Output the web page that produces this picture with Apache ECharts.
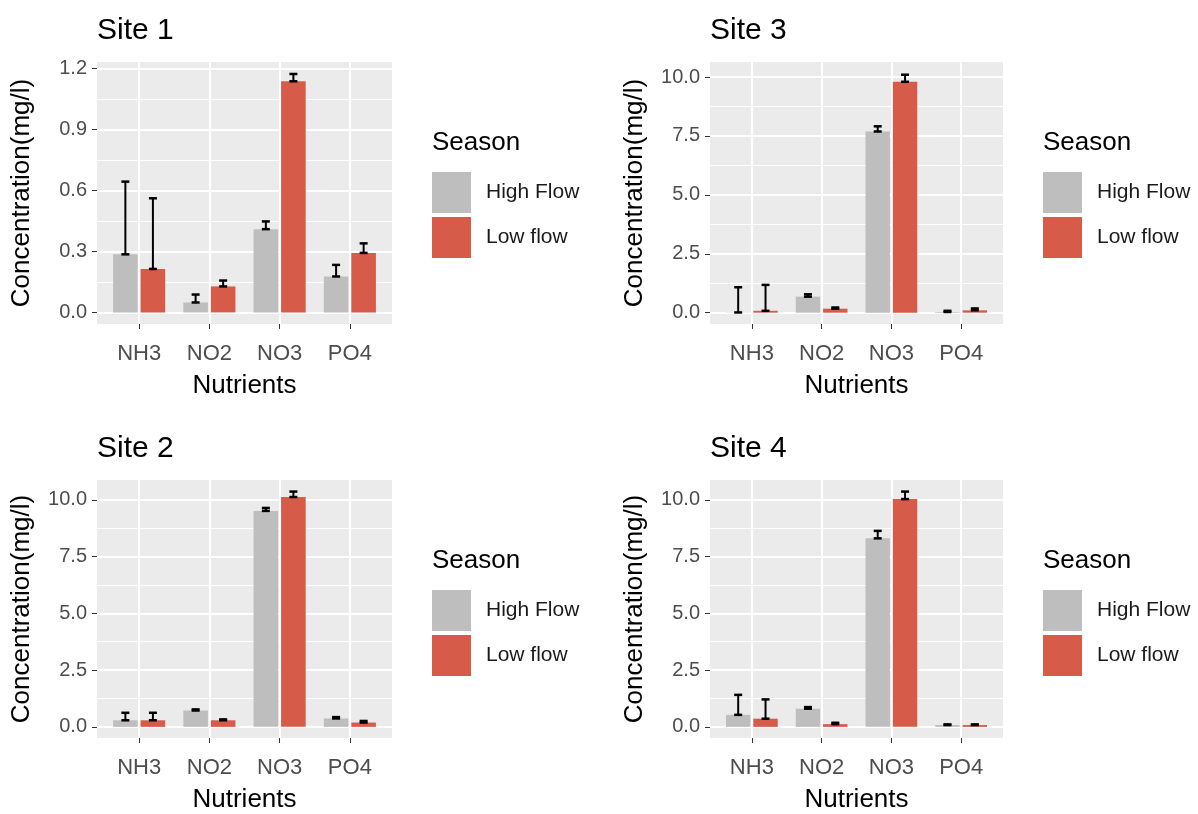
<!DOCTYPE html>
<html><head><meta charset="utf-8">
<script src="https://cdn.jsdelivr.net/npm/echarts@6/dist/echarts.min.js"></script>
<style>html,body{margin:0;padding:0;background:#fff}#c{width:1198px;height:814px}</style>
</head><body><div id="c"></div>
<script>
// ---- data ----
const categories = ['NH3', 'NO2', 'NO3', 'PO4'];
const seasons = ['High Flow', 'Low flow'];
const siteNames = ['Site 1', 'Site 2', 'Site 3', 'Site 4'];

const site1High = [0.286, 0.049, 0.410, 0.177];
const site1HighErr = [0.358, 0.039, 0.038, 0.057];
const site1Low = [0.214, 0.128, 1.138, 0.293];
const site1LowErr = [0.348, 0.029, 0.036, 0.047];

const site2High = [0.29, 0.72, 9.51, 0.37];
const site2HighErr = [0.33, 0.05, 0.13, 0.06];
const site2Low = [0.29, 0.29, 10.12, 0.19];
const site2LowErr = [0.33, 0.04, 0.24, 0.07];

const site3High = [0.01, 0.68, 7.69, 0.03];
const site3HighErr = [1.07, 0.10, 0.22, 0.05];
const site3Low = [0.08, 0.17, 9.80, 0.10];
const site3LowErr = [1.10, 0.05, 0.30, 0.08];

const site4High = [0.53, 0.80, 8.30, 0.08];
const site4HighErr = [0.88, 0.07, 0.33, 0.03];
const site4Low = [0.36, 0.12, 10.03, 0.08];
const site4LowErr = [0.85, 0.06, 0.33, 0.03];

const site1Ticks = [0, 0.3, 0.6, 0.9, 1.2];
const site1Minor = [0.15, 0.45, 0.75, 1.05];
const otherTicks = [0, 2.5, 5, 7.5, 10];
const otherMinor = [1.25, 3.75, 6.25, 8.75];
const catPositions = [1, 2, 3, 4];

// ---- layout / style ----
const FONT = '"Liberation Sans", Arial, sans-serif';
const GREY = '#BEBEBE', RED = '#D65B49';
const panels = [
  {name: siteNames[0], high: site1High, highErr: site1HighErr, low: site1Low, lowErr: site1LowErr,
   ticks: site1Ticks, minor: site1Minor, min: -0.057, max: 1.233,
   left: 97, top: 62, width: 295, height: 262, tx: 97, ty: 16, lx: 432, ly: 130},
  {name: siteNames[1], high: site2High, highErr: site2HighErr, low: site2Low, lowErr: site2LowErr,
   ticks: otherTicks, minor: otherMinor, min: -0.49, max: 10.87,
   left: 97, top: 480, width: 295, height: 262, tx: 97, ty: 434, lx: 432, ly: 548},
  {name: siteNames[2], high: site3High, highErr: site3HighErr, low: site3Low, lowErr: site3LowErr,
   ticks: otherTicks, minor: otherMinor, min: -0.48, max: 10.64,
   left: 710, top: 62, width: 293, height: 262, tx: 710, ty: 16, lx: 1043, ly: 130},
  {name: siteNames[3], high: site4High, highErr: site4HighErr, low: site4Low, lowErr: site4LowErr,
   ticks: otherTicks, minor: otherMinor, min: -0.49, max: 10.87,
   left: 710, top: 480, width: 293, height: 262, tx: 710, ty: 434, lx: 1043, ly: 548}
];

const BAR_W = 0.35, BAR_GAP = 0.12;
const OFF = BAR_W / 2 + BAR_W * BAR_GAP / 2;

function makeErr(off) {
  return function (params, api) {
    const x = api.value(0) + off;
    const a = api.coord([x, api.value(1)]);
    const b = api.coord([x, api.value(2)]);
    const h = 4;
    const st = {stroke: '#000', lineWidth: 2};
    const cap = {stroke: '#000', lineWidth: 2.5};
    return {type: 'group', children: [
      {type: 'line', shape: {x1: a[0], y1: a[1], x2: b[0], y2: b[1]}, style: st},
      {type: 'line', shape: {x1: a[0] - h, y1: a[1], x2: a[0] + h, y2: a[1]}, style: cap},
      {type: 'line', shape: {x1: b[0] - h, y1: b[1], x2: b[0] + h, y2: b[1]}, style: cap}
    ]};
  };
}

const option = {
  animation: false, backgroundColor: '#fff',
  title: [], legend: [], grid: [], xAxis: [], yAxis: [], series: []
};

panels.forEach((p, i) => {
  option.title.push({text: p.name, left: p.tx, top: p.ty, padding: 0,
    textStyle: {fontSize: 30, fontWeight: 'normal', color: '#000', fontFamily: FONT, lineHeight: 30}});
  option.title.push({text: 'Season', left: p.lx, top: p.ly, padding: 0,
    textStyle: {fontSize: 26, fontWeight: 'normal', color: '#000', fontFamily: FONT, lineHeight: 26}});
  option.legend.push({left: p.lx, top: p.ly + 42, orient: 'vertical', padding: 0,
    itemWidth: 39, itemHeight: 41, itemGap: 4, icon: 'rect', selectedMode: false,
    data: seasons,
    textStyle: {fontSize: 21, color: '#1A1A1A', fontFamily: FONT, padding: [4, 0, 0, 10]}});
  option.grid.push({left: p.left, top: p.top, width: p.width, height: p.height,
    show: true, backgroundColor: '#EBEBEB', borderWidth: 0});
  option.xAxis.push({gridIndex: i, type: 'value', min: 0.4, max: 4.6,
    axisLine: {show: false, onZero: false},
    axisTick: {show: true, customValues: catPositions, length: 5, lineStyle: {color: '#333', width: 1}},
    axisLabel: {customValues: catPositions, formatter: v => categories[Math.round(v) - 1],
      fontSize: 22, color: '#4D4D4D', margin: 19, fontFamily: FONT},
    splitLine: {show: true, lineStyle: {color: '#fff', width: 2}},
    name: 'Nutrients', nameLocation: 'middle', nameGap: 49,
    nameTextStyle: {fontSize: 26, color: '#000', fontFamily: FONT}});
  option.yAxis.push({gridIndex: i, type: 'value', min: p.min, max: p.max,
    axisLine: {show: false, onZero: false},
    axisTick: {show: true, customValues: p.ticks, length: 5, lineStyle: {color: '#333', width: 1}},
    axisLabel: {customValues: p.ticks, formatter: v => v.toFixed(1),
      fontSize: 20, color: '#4D4D4D', margin: 10, fontFamily: FONT},
    splitLine: {show: true, lineStyle: {color: '#fff', width: 2}},
    name: 'Concentration(mg/l)', nameLocation: 'middle', nameGap: 62,
    nameTextStyle: {fontSize: 26, color: '#000', fontFamily: FONT}});
  option.yAxis.push({gridIndex: i, type: 'value', min: p.min, max: p.max, position: 'left',
    axisLine: {show: false, onZero: false},
    axisTick: {show: false, customValues: p.minor},
    axisLabel: {show: false},
    splitLine: {show: true, lineStyle: {color: '#fff', width: 1}}});
  option.series.push({type: 'bar', name: seasons[0], xAxisIndex: i, yAxisIndex: 2 * i,
    data: p.high.map((v, k) => [catPositions[k], v]),
    barWidth: (BAR_W * 100) + '%', barGap: (BAR_GAP * 100) + '%',
    itemStyle: {color: GREY}, silent: true});
  option.series.push({type: 'bar', name: seasons[1], xAxisIndex: i, yAxisIndex: 2 * i,
    data: p.low.map((v, k) => [catPositions[k], v]),
    barWidth: (BAR_W * 100) + '%', barGap: (BAR_GAP * 100) + '%',
    itemStyle: {color: RED}, silent: true});
  option.series.push({type: 'custom', name: 'errHigh' + i, xAxisIndex: i, yAxisIndex: 2 * i, z: 5,
    data: p.high.map((v, k) => [catPositions[k], v, v + p.highErr[k]]),
    encode: {x: 0, y: [1, 2]}, renderItem: makeErr(-OFF), silent: true});
  option.series.push({type: 'custom', name: 'errLow' + i, xAxisIndex: i, yAxisIndex: 2 * i, z: 5,
    data: p.low.map((v, k) => [catPositions[k], v, v + p.lowErr[k]]),
    encode: {x: 0, y: [1, 2]}, renderItem: makeErr(OFF), silent: true});
});

const chart = echarts.init(document.getElementById('c'), null, {renderer: 'canvas'});
chart.setOption(option);
</script>
</body></html>
